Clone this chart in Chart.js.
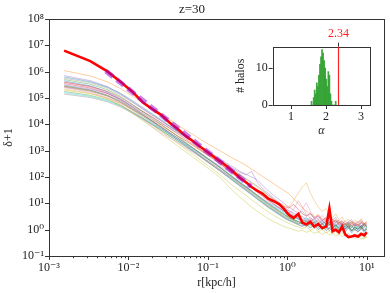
<!DOCTYPE html>
<html>
<head>
<meta charset="utf-8">
<script src="https://cdn.jsdelivr.net/npm/chart.js@4.4.0/dist/chart.umd.min.js"></script>
<style>
  html, body { margin: 0; padding: 0; background: #fff; }
  #wrap { position: relative; width: 390px; height: 293px; }
  #main { position: absolute; left: 0; top: 0; }
  #inset { position: absolute; left: 230px; top: 20px; }
</style>
</head>
<body>
<div id="wrap">
  <canvas id="main" width="390" height="293"></canvas>
  <canvas id="inset" width="158" height="120"></canvas>
</div>
<script>
// radius bins (kpc/h)
const radius = [0.00155, 0.00331, 0.00537, 0.00794, 0.0112, 0.0151, 0.0200, 0.0257, 0.0331, 0.0417,
  0.0525, 0.0646, 0.0794, 0.0977, 0.120, 0.145, 0.174, 0.209, 0.251, 0.302,
  0.355, 0.417, 0.490, 0.575, 0.676, 0.794, 0.912, 1.047, 1.202, 1.380,
  1.549, 1.738, 1.950, 2.188, 2.455, 2.754, 3.090, 3.388, 3.715, 4.074,
  4.467, 4.898, 5.370, 5.888, 6.457, 7.079, 7.762, 8.511, 9.333, 10.0];

// log10(delta+1) of the stacked profile (thick red)
const stackLogDelta = [6.80, 6.40, 6.02, 5.62, 5.24, 4.84, 4.58, 4.36, 4.06, 3.82,
  3.56, 3.37, 3.16, 2.96, 2.76, 2.58, 2.40, 2.20, 1.98, 1.80,
  1.62, 1.48, 1.36, 1.18, 1.08, 0.96, 0.78, 0.56, 0.44, 0.60,
  0.26, 0.20, 0.30, 0.12, 0.22, 0.06, 0.12, 0.80, -0.06, 0.00,
  -0.10, 0.12, -0.18, -0.28, -0.26, -0.22, -0.26, -0.16, -0.22, -0.10];

// log10(delta+1) of individual halos (thin lines)
const haloLogDelta = [
  [6.04,5.84,5.62,5.36,5.08,4.84,4.60,4.40,4.18,3.98,3.78,3.62,3.44,3.28,3.12,2.98,2.84,2.70,2.58,2.44,2.30,2.16,2.02,1.88,1.74,1.60,1.48,1.36,1.18,0.98,0.82,0.70,0.62,0.48,0.58,0.40,0.34,0.46,0.28,0.38,0.22,0.34,0.18,0.30,0.12,0.28,0.20,0.34,0.16,0.26],
  [5.80,5.62,5.42,5.18,4.90,4.64,4.40,4.18,3.94,3.74,3.52,3.34,3.14,2.94,2.74,2.56,2.38,2.18,2.00,1.82,1.64,1.48,1.30,1.14,0.98,0.84,0.70,0.58,0.50,0.40,0.30,0.36,0.22,0.28,0.14,0.24,0.10,0.20,0.04,0.18,0.08,0.22,0.02,0.14,-0.04,0.10,0.00,0.16,-0.06,0.06],
  [5.70,5.52,5.32,5.06,4.76,4.48,4.22,4.00,3.76,3.54,3.32,3.12,2.92,2.72,2.52,2.34,2.14,1.96,1.78,1.60,1.44,1.28,1.12,0.96,0.82,0.68,0.56,0.46,0.36,0.30,0.22,0.30,0.16,0.26,0.08,0.22,0.04,0.28,0.10,0.18,0.00,0.12,0.24,0.06,0.18,-0.02,0.14,0.04,0.22,0.10],
  [5.60,5.44,5.26,5.02,4.74,4.50,4.28,4.06,3.84,3.64,3.44,3.26,3.06,2.86,2.68,2.50,2.30,2.12,1.94,1.76,1.60,1.42,1.26,1.10,0.96,0.82,0.70,0.60,0.52,0.44,0.38,0.30,0.40,0.26,0.34,0.20,0.32,0.18,0.26,0.12,0.30,0.16,0.22,0.08,0.26,0.14,0.20,0.06,0.24,0.12],
  [5.50,5.34,5.18,4.96,4.70,4.48,4.26,4.06,3.86,3.68,3.50,3.34,3.16,2.98,2.80,2.64,2.48,2.32,2.18,2.08,2.22,1.80,1.56,1.38,1.20,1.02,0.86,0.72,0.60,0.50,0.40,0.46,0.32,0.42,0.26,0.36,0.20,0.30,0.14,0.34,0.18,0.26,0.10,0.30,0.16,0.22,0.08,0.28,0.12,0.20],
  [5.45,5.30,5.12,4.88,4.60,4.36,4.12,3.90,3.68,3.48,3.28,3.10,2.90,2.70,2.52,2.34,2.16,1.98,1.80,1.62,1.46,1.30,1.14,0.98,0.84,0.70,0.58,0.46,0.38,0.30,0.24,0.16,0.26,0.10,0.20,0.06,0.16,0.02,0.14,0.08,-0.02,0.10,0.04,0.16,-0.04,0.08,0.02,0.12,-0.06,0.04],
  [5.40,5.22,5.02,4.76,4.46,4.18,3.92,3.68,3.48,3.30,3.10,2.94,2.76,2.58,2.40,2.24,2.08,1.92,1.76,1.60,1.46,1.32,1.18,1.04,0.92,0.80,0.70,0.62,0.78,1.10,0.86,0.60,0.44,0.36,0.52,0.28,0.40,0.22,0.32,0.16,0.28,0.12,0.24,0.18,0.08,0.22,0.14,0.26,0.10,0.18],
  [5.75,5.58,5.38,5.12,4.84,4.58,4.34,4.14,3.92,3.72,3.52,3.34,3.14,2.96,2.78,2.62,2.46,2.28,2.10,1.94,1.80,1.66,1.50,1.32,1.14,0.96,0.80,0.66,0.54,0.44,0.52,0.36,0.46,0.30,0.40,0.24,0.34,0.18,0.28,0.36,0.16,0.26,0.10,0.22,0.30,0.12,0.20,0.08,0.18,0.14],
  [5.35,5.18,4.98,4.72,4.42,4.14,3.88,3.64,3.40,3.18,2.96,2.76,2.56,2.36,2.16,1.96,1.70,1.46,1.24,1.04,0.86,0.70,0.56,0.42,0.30,0.20,0.12,0.06,0.00,-0.06,-0.02,-0.10,-0.04,-0.14,-0.08,-0.18,-0.10,-0.20,-0.14,-0.24,-0.16,-0.26,-0.20,-0.30,-0.22,-0.34,-0.26,-0.36,-0.30,-0.28],
  [5.20,5.06,4.90,4.70,4.46,4.24,4.02,3.82,3.62,3.42,3.24,3.06,2.88,2.70,2.52,2.34,2.16,1.98,1.80,1.64,1.48,1.32,1.16,1.00,0.86,0.72,0.60,0.48,0.40,0.32,0.26,0.34,0.20,0.30,0.14,0.24,0.10,0.18,0.26,0.08,0.16,0.04,0.14,0.22,0.06,0.12,0.00,0.10,0.18,0.08],
  [5.65,5.46,5.24,4.96,4.66,4.38,4.12,3.88,3.64,3.42,3.20,3.00,2.80,2.60,2.40,2.22,2.04,1.86,1.68,1.50,1.34,1.18,1.02,0.86,0.72,0.58,0.46,0.36,0.28,0.20,0.14,0.22,0.08,0.18,0.02,0.12,-0.02,0.08,-0.06,0.04,-0.10,0.02,-0.08,0.06,-0.12,0.00,-0.06,0.04,-0.14,-0.04],
  [5.30,5.16,5.00,4.80,4.56,4.34,4.14,3.94,3.74,3.56,3.38,3.22,3.04,2.88,2.72,2.56,2.40,2.24,2.08,1.92,1.78,1.62,1.46,1.30,1.16,1.02,0.92,0.86,1.10,1.40,1.62,1.78,1.40,1.10,0.86,0.70,0.80,0.56,0.46,0.60,0.38,0.48,0.30,0.40,0.24,0.36,0.28,0.42,0.22,0.32],
  [5.25,5.10,4.94,4.72,4.46,4.22,4.00,3.78,3.56,3.36,3.16,2.98,2.80,2.60,2.42,2.24,2.06,1.88,1.70,1.52,1.36,1.20,1.04,0.88,0.74,0.60,0.48,0.38,0.30,0.22,0.28,0.14,0.24,0.08,0.20,0.02,0.16,0.26,0.06,0.18,-0.02,0.12,0.04,0.20,-0.04,0.10,0.02,0.16,-0.02,0.10],
  [5.55,5.38,5.18,4.94,4.66,4.42,4.18,3.98,3.76,3.56,3.38,3.20,3.02,2.84,2.66,2.48,2.30,2.14,1.96,1.80,1.64,1.48,1.34,1.20,1.08,0.96,0.88,0.82,0.96,0.76,0.60,0.52,0.62,0.44,0.54,0.36,0.46,0.30,0.40,0.26,0.36,0.22,0.32,0.18,0.30,0.24,0.16,0.28,0.20,0.26],
  [5.85,5.66,5.44,5.16,4.86,4.60,4.36,4.14,3.92,3.72,3.54,3.36,3.18,3.00,2.84,2.68,2.52,2.38,2.22,2.10,2.00,1.90,1.68,1.48,1.30,1.14,1.00,0.86,0.74,0.62,0.70,0.52,0.60,0.42,0.50,0.34,0.44,0.28,0.38,0.46,0.26,0.34,0.20,0.30,0.38,0.18,0.28,0.36,0.22,0.30],
  [5.42,5.26,5.08,4.84,4.56,4.30,4.06,3.84,3.62,3.42,3.22,3.04,2.84,2.64,2.46,2.28,2.10,1.92,1.74,1.56,1.40,1.24,1.08,0.92,0.78,0.64,0.52,0.42,0.34,0.26,0.20,0.12,0.22,0.06,0.16,0.00,0.12,-0.04,0.08,0.02,-0.08,0.04,-0.02,0.10,-0.06,0.02,-0.10,0.06,-0.04,0.00],
  [5.60,5.42,5.20,4.92,4.62,4.36,4.12,3.90,3.68,3.48,3.28,3.10,2.92,2.74,2.56,2.40,2.24,2.08,1.92,1.78,1.64,1.50,1.36,1.22,1.08,0.94,0.82,0.72,0.64,0.58,0.80,1.02,0.70,0.50,0.40,0.54,0.32,0.44,0.26,0.36,0.20,0.30,0.16,0.26,0.12,0.22,0.32,0.14,0.24,0.18],
  [5.15,5.02,4.86,4.66,4.42,4.20,3.98,3.78,3.56,3.36,3.16,2.98,2.78,2.58,2.38,2.20,2.02,1.84,1.66,1.48,1.32,1.16,1.00,0.84,0.70,0.56,0.44,0.34,0.26,0.18,0.12,0.20,0.06,0.16,0.00,0.10,-0.04,0.06,0.14,-0.02,0.08,-0.06,0.04,0.12,-0.04,0.06,-0.08,0.02,0.10,0.00],
  [5.45,5.28,5.08,4.82,4.52,4.24,3.98,3.74,3.50,3.28,3.06,2.86,2.66,2.46,2.26,2.06,1.86,1.66,1.48,1.30,1.14,0.98,0.82,0.68,0.54,0.42,0.32,0.24,0.16,0.10,0.04,0.10,-0.02,0.06,-0.08,0.00,-0.12,-0.04,-0.16,-0.06,-0.20,-0.10,-0.24,-0.14,-0.28,-0.18,-0.32,-0.22,-0.36,-0.26],
  [5.48,5.30,5.10,4.86,4.58,4.34,4.10,3.90,3.68,3.48,3.28,3.10,2.92,2.72,2.54,2.36,2.18,2.00,1.82,1.64,1.48,1.32,1.16,1.02,0.88,0.76,0.64,0.54,0.46,0.40,0.34,0.42,0.28,0.38,0.22,0.32,0.16,0.28,0.10,0.24,0.06,0.20,0.12,0.26,0.08,0.18,0.04,0.14,0.22,0.10]
];

// power-law fit (slope 2.34)
const fitRadius = [0.0052, 0.35];
const fitDelta = [1.05e6, 44];

// inset histogram of slopes
const alphaBins = [1.59, 1.62, 1.65, 1.68, 1.71, 1.74, 1.77, 1.80, 1.83, 1.86, 1.89, 1.92,
  1.95, 1.98, 2.01, 2.04, 2.07, 2.10, 2.13, 2.16, 2.19, 2.22, 2.25, 2.28];
const haloCounts = [1, 0, 2, 4, 3, 6, 5, 8, 11, 13, 15, 14, 12, 10, 7, 5, 9, 8, 3, 1, 0, 0, 0, 1];
const alphaStack = 2.34;

// tick values
const xMajorTicks = [1e-3, 1e-2, 1e-1, 1, 10];
const yMajorTicks = [1e-1, 1, 10, 1e2, 1e3, 1e4, 1e5, 1e6, 1e7, 1e8];
const insetXTicks = [1, 2, 3];
const insetYTicks = [0, 10];

// one colour per halo line
const haloColors = ['#ff7f0e', '#1f77b4', '#2ca02c', '#d62728', '#9467bd', '#8c564b', '#e377c2', '#7f7f7f',
  '#bcbd22', '#17becf', '#1f77b4', '#e8a030', '#2ca02c', '#d62728', '#9467bd', '#8c564b',
  '#e377c2', '#7f7f7f', '#bcbd22', '#17becf'];
const serif = "'Liberation Serif', 'DejaVu Serif', serif";
const ink = '#222';

const supMap = { '-': '\u207B', '0': '\u2070', '1': '\u00B9', '2': '\u00B2', '3': '\u00B3', '4': '\u2074',
  '5': '\u2075', '6': '\u2076', '7': '\u2077', '8': '\u2078', '9': '\u2079' };
function powLabel(v) {
  const e = String(Math.round(Math.log10(v)));
  return '10' + e.split('').map(c => supMap[c]).join('');
}

const X_MAX = 16.5;
const xTicks = [];
xMajorTicks.forEach(d => {
  xTicks.push({ value: d, major: true });
  for (let m = 2; m <= 9; m++) {
    if (m * d <= X_MAX) xTicks.push({ value: m * d, major: false });
  }
});

// frame + outward tick marks, drawn through the scales
const frameTicks = {
  id: 'frameTicks',
  afterDraw(chart) {
    const { ctx, chartArea: a, scales } = chart;
    ctx.save();
    ctx.strokeStyle = '#333';
    ctx.lineWidth = 1;
    ctx.strokeRect(Math.round(a.left) + 0.5, Math.round(a.top) + 0.5,
      Math.round(a.right - a.left), Math.round(a.bottom - a.top));
    ctx.beginPath();
    scales.x.ticks.forEach(t => {
      const px = Math.round(scales.x.getPixelForValue(t.value)) + 0.5;
      ctx.moveTo(px, a.bottom);
      ctx.lineTo(px, a.bottom + (t.major ? 4 : 2.2));
    });
    scales.y.ticks.forEach(t => {
      const py = Math.round(scales.y.getPixelForValue(t.value)) + 0.5;
      ctx.moveTo(a.left, py);
      ctx.lineTo(a.left - 4, py);
    });
    ctx.stroke();
    ctx.restore();
  }
};

// main chart
const datasets = haloLogDelta.map((prof, i) => ({
  data: radius.map((r, j) => ({ x: r, y: Math.pow(10, prof[j]) })),
  borderColor: haloColors[i] + '80',
  borderWidth: 0.8,
  pointRadius: 0,
  order: 2
}));
datasets.push({
  data: radius.map((r, j) => ({ x: r, y: Math.pow(10, stackLogDelta[j]) })),
  borderColor: '#ff0000',
  borderWidth: 2.6,
  pointRadius: 0,
  order: 1
});
datasets.push({
  data: fitRadius.map((r, j) => ({ x: r, y: fitDelta[j] })),
  borderColor: 'rgba(148,0,211,0.5)',
  borderWidth: 5,
  borderDash: [9, 5],
  pointRadius: 0,
  order: 0
});

new Chart(document.getElementById('main'), {
  type: 'line',
  data: { datasets },
  options: {
    responsive: false,
    animation: false,
    layout: { padding: { left: 0, right: 6, top: 0, bottom: 0 } },
    plugins: {
      legend: { display: false },
      tooltip: { enabled: false },
      title: {
        display: true, text: 'z=30', color: ink,
        font: { family: serif, size: 13, weight: 'normal' },
        padding: { top: 2, bottom: 1.4 }
      }
    },
    scales: {
      x: {
        type: 'logarithmic', min: 1e-3, max: X_MAX,
        afterBuildTicks: s => { s.ticks = xTicks.map(t => ({ ...t })); },
        afterFit: s => { s.height = 37; },
        grid: { display: false, drawTicks: false },
        border: { display: false },
        ticks: {
          autoSkip: false, maxRotation: 0, padding: 5, color: ink,
          font: { family: serif, size: 12 },
          callback: (v, i, ticks) => ticks[i].major ? powLabel(v) : ''
        },
        title: {
          display: true, text: 'r[kpc/h]', color: ink,
          font: { family: serif, size: 12 }, padding: { top: 0, bottom: 3 }
        }
      },
      y: {
        type: 'logarithmic', min: 1e-1, max: 1e8,
        afterBuildTicks: s => { s.ticks = yMajorTicks.map(v => ({ value: v, major: true })); },
        afterFit: s => { s.width = 49; },
        grid: { display: false, drawTicks: false },
        border: { display: false },
        ticks: {
          autoSkip: false, padding: 5, color: ink,
          font: { family: serif, size: 12 },
          callback: v => powLabel(v)
        },
        title: {
          display: true, text: '\u03B4+1', color: ink,
          font: { family: serif, size: 12 }, padding: { top: 2, bottom: 0 }
        }
      }
    }
  },
  plugins: [frameTicks]
});

// red marker for the stacked slope in the inset
const stackMarker = {
  id: 'stackMarker',
  afterDraw(chart) {
    const { ctx, chartArea: a, scales } = chart;
    const px = Math.round(scales.x.getPixelForValue(alphaStack)) + 0.5;
    ctx.save();
    ctx.strokeStyle = '#ff2020';
    ctx.lineWidth = 1.2;
    ctx.beginPath();
    ctx.moveTo(px, a.top);
    ctx.lineTo(px, a.bottom);
    ctx.stroke();
    ctx.strokeStyle = '#333';
    ctx.lineWidth = 1;
    ctx.beginPath();
    ctx.moveTo(px, a.top);
    ctx.lineTo(px, a.top - 4);
    ctx.stroke();
    ctx.fillStyle = '#ff2020';
    ctx.font = '12px ' + serif;
    ctx.textAlign = 'center';
    ctx.textBaseline = 'middle';
    ctx.fillText(alphaStack.toFixed(2), px, a.top - 13);
    ctx.restore();
  }
};

new Chart(document.getElementById('inset'), {
  type: 'bar',
  data: {
    datasets: [{
      data: alphaBins.map((b, i) => ({ x: b, y: haloCounts[i] })),
      backgroundColor: 'rgba(44,160,44,0.9)',
      borderWidth: 0,
      barPercentage: 1,
      categoryPercentage: 1
    }]
  },
  options: {
    responsive: false,
    animation: false,
    layout: { padding: { left: 0, right: 18, top: 26.7, bottom: 0 } },
    plugins: { legend: { display: false }, tooltip: { enabled: false } },
    scales: {
      x: {
        type: 'linear', min: 0.48, max: 3.26, offset: false,
        afterBuildTicks: s => { s.ticks = insetXTicks.map(v => ({ value: v, major: true })); },
        afterFit: s => { s.height = 35; },
        grid: { display: false, drawTicks: false },
        border: { display: false },
        ticks: { autoSkip: false, maxRotation: 0, padding: 5, color: ink, font: { family: serif, size: 12 } },
        title: {
          display: true, text: '\u03B1', color: ink,
          font: { family: serif, size: 12, style: 'italic' }, padding: { top: 0, bottom: 2 }
        }
      },
      y: {
        min: 0, max: 15.75,
        afterBuildTicks: s => { s.ticks = insetYTicks.map(v => ({ value: v, major: true })); },
        afterFit: s => { s.width = 42.7; },
        grid: { display: false, drawTicks: false },
        border: { display: false },
        ticks: { autoSkip: false, padding: 5, color: ink, font: { family: serif, size: 12 } },
        title: {
          display: true, text: '# halos', color: ink,
          font: { family: serif, size: 12 }, padding: { top: 4, bottom: 0 }
        }
      }
    }
  },
  plugins: [frameTicks, stackMarker]
});
</script>
</body>
</html>
